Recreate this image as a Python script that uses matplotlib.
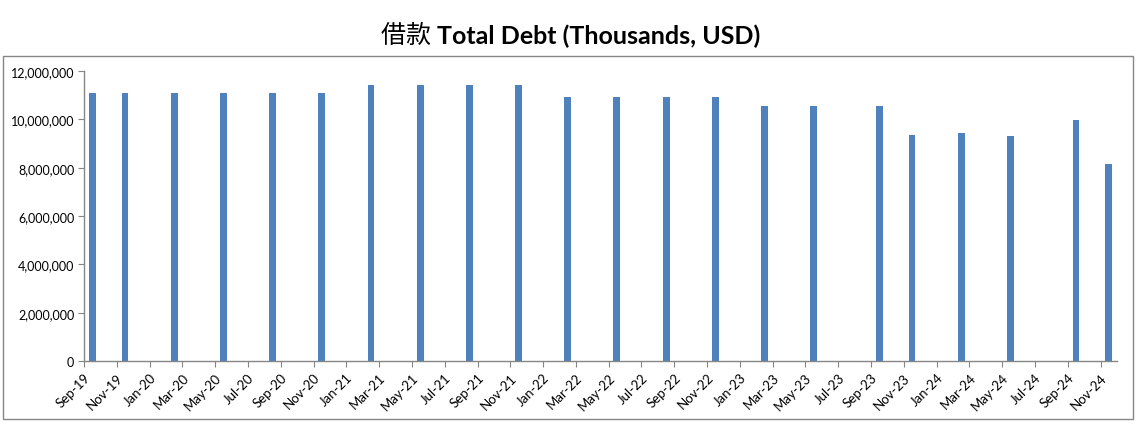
import matplotlib

matplotlib.use("Agg", force=True)
import matplotlib.pyplot as plt
from matplotlib.patches import Rectangle
from matplotlib.ticker import FuncFormatter, MultipleLocator

# data: reporting month -> total debt (thousands USD)
months = [
    "2019-09", "2019-11", "2020-02", "2020-05", "2020-08", "2020-11",
    "2021-02", "2021-05", "2021-08", "2021-11",
    "2022-02", "2022-05", "2022-08", "2022-11",
    "2023-02", "2023-05", "2023-09", "2023-11",
    "2024-02", "2024-05", "2024-09", "2024-11",
]
debt = [
    11100000, 11100000, 11100000, 11100000, 11100000, 11100000,
    11420000, 11420000, 11420000, 11420000,
    10920000, 10920000, 10920000, 10920000,
    10550000, 10550000, 10550000, 9350000,
    9430000, 9310000, 9970000, 8150000,
]
tick_labels = [
    "Sep-19", "Nov-19", "Jan-20", "Mar-20", "May-20", "Jul-20", "Sep-20", "Nov-20",
    "Jan-21", "Mar-21", "May-21", "Jul-21", "Sep-21", "Nov-21",
    "Jan-22", "Mar-22", "May-22", "Jul-22", "Sep-22", "Nov-22",
    "Jan-23", "Mar-23", "May-23", "Jul-23", "Sep-23", "Nov-23",
    "Jan-24", "Mar-24", "May-24", "Jul-24", "Sep-24", "Nov-24",
]

BAR_COLOR = "#4F81BD"
AXIS_COLOR = "#868686"


def month_index(label: str) -> int:
    year, month = label.split("-")
    return (int(year) - 2019) * 12 + int(month) - 9


plt.rcParams["font.family"] = ["Lato", "Noto Sans CJK SC", "DejaVu Sans"]

fig = plt.figure(figsize=(11.37, 4.27), dpi=100)
ax = fig.add_axes([84 / 1137, 65 / 427, 1033 / 1137, 290 / 427])

x = [month_index(m) + 0.5 for m in months]
ax.bar(x, debt, width=0.42, color=BAR_COLOR, zorder=2)

ax.set_xlim(0, 63)
ax.set_ylim(0, 12000000)
ax.set_xticks([2 * i for i in range(len(tick_labels))])
ax.set_xticklabels(tick_labels, rotation=45, ha="right", va="top",
                   rotation_mode="anchor", fontsize=9.5)
ax.yaxis.set_major_locator(MultipleLocator(2000000))
ax.yaxis.set_major_formatter(FuncFormatter(lambda v, _: f"{int(v):,}"))
ax.tick_params(axis="y", labelsize=9, length=4, color=AXIS_COLOR, pad=3)
ax.tick_params(axis="x", length=4, color=AXIS_COLOR, pad=3)

for side in ("top", "right"):
    ax.spines[side].set_visible(False)
for side in ("left", "bottom"):
    ax.spines[side].set_color(AXIS_COLOR)
    ax.spines[side].set_linewidth(1.0)

# title: Chinese part in regular weight, English part bold
title_y = 0.915
t1 = fig.text(0.335, title_y, "借款 ", ha="left", va="center", fontsize=18,
              family=["Noto Sans CJK SC"])
fig.canvas.draw()
bb = t1.get_window_extent()
fig.text(bb.x1 / fig.bbox.width, title_y, "Total Debt (Thousands, USD)",
         ha="left", va="center", fontsize=18, fontweight="bold")

fig.add_artist(Rectangle((3 / 1137, 7 / 427), 1130 / 1137, 363 / 427,
                         transform=fig.transFigure, fill=False,
                         edgecolor=AXIS_COLOR, linewidth=1.0))

fig.savefig("out.png", dpi=100)
plt.close(fig)
